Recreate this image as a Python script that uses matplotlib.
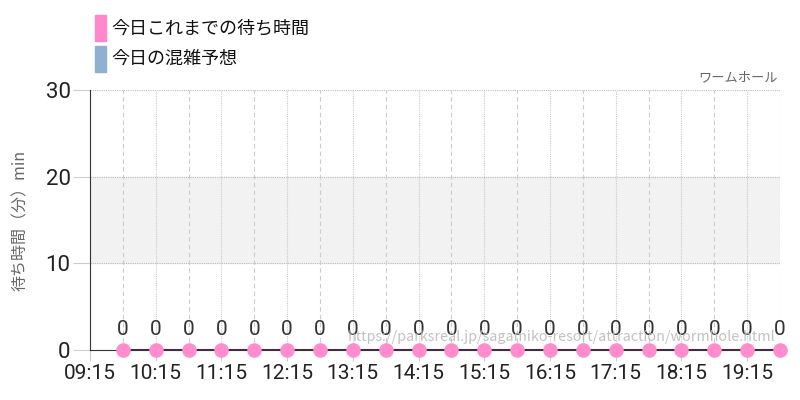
import matplotlib
matplotlib.use("Agg")
import matplotlib.pyplot as plt
import matplotlib.patches as mpatches

plt.rcParams['font.family'] = ['Noto Sans CJK JP', 'DejaVu Sans']

# datos
horas = ["09:45", "10:15", "10:45", "11:15", "11:45", "12:15", "12:45", "13:15",
         "13:45", "14:15", "14:45", "15:15", "15:45", "16:15", "16:45", "17:15",
         "17:45", "18:15", "18:45", "19:15", "19:45"]
espera = [0, 0, 0, 0, 0, 0, 0, 0, 0, 0, 0, 0, 0, 0, 0, 0, 0, 0, 0, 0, 0]
etiquetas_x = ["09:15", "10:15", "11:15", "12:15", "13:15", "14:15",
               "15:15", "16:15", "17:15", "18:15", "19:15"]
titulo = "ワームホール"
leyenda = ["今日これまでの待ち時間", "今日の混雑予想"]
url = "https://parksreal.jp/sagamiko-resort/attraction/wormhole.html"


def a_min(h):
    hh, mm = h.split(":")
    return int(hh) * 60 + int(mm)


x = [a_min(h) for h in horas]
x_ticks = [a_min(h) for h in etiquetas_x]

num_font = ['Roboto', 'DejaVu Sans']

fig = plt.figure(figsize=(8, 4), dpi=100)
ax = fig.add_axes([90 / 800, 50 / 400, 690 / 800, 260 / 400])
ax.set_xlim(a_min("09:15"), a_min("19:45"))
ax.set_ylim(0, 30)

# banda gris 10-20
ax.axhspan(10, 20, color="#f2f2f2", zorder=0)
for yv in [10, 20, 30]:
    ax.axhline(yv, color="#bbbbbb", lw=0.8, ls=(0, (1, 1)), zorder=1)
for xv in range(a_min("09:45"), a_min("19:45") + 1, 30):
    estilo = (0, (1, 1)) if (xv - a_min("09:15")) % 60 == 0 else (0, (4, 3))
    ax.axvline(xv, color="#cccccc", lw=0.8, ls=estilo, zorder=1)

ax.plot(x, espera, color="#5a2050", lw=1.5, zorder=3)
ax.scatter(x, espera, s=110, color="#ff8ccc", zorder=4, clip_on=False, linewidths=0)
for xi, yi in zip(x, espera):
    ax.text(xi, yi + 1.3, str(yi), ha="center", va="bottom", fontsize=15,
            color="#333333", family=num_font, zorder=5)

ax.set_xticks(x_ticks)
ax.set_xticklabels(etiquetas_x, family=num_font, fontsize=15, color="#222222")
ax.set_yticks([0, 10, 20, 30])
ax.set_yticklabels(["0", "10", "20", "30"], family=num_font, fontsize=16, color="#222222")
ax.tick_params(axis="x", length=8, color="#cccccc", pad=2)
ax.tick_params(axis="y", length=12, color="#cccccc", pad=2)

for lado in ["top", "right"]:
    ax.spines[lado].set_visible(False)
ax.spines["left"].set_color("#333333")
ax.spines["bottom"].set_color("#333333")

ax.set_ylabel("待ち時間（分）min", fontsize=11.5, color="#666666", labelpad=12)

fig.text(778 / 800, 1 - 78 / 400, titulo, ha="right", va="center", fontsize=9.5, color="#666666")
fig.text(775 / 800, 1 - 337 / 400, url, ha="right", va="center", fontsize=10.3,
         color="#bbbbbb", alpha=0.9, zorder=10)

# leyenda
colores = ["#ff88cc", "#8fb0d0"]
for i, (txt, c) in enumerate(zip(leyenda, colores)):
    y0 = 1 - (41 + i * 31) / 400
    fig.patches.append(mpatches.Rectangle((95 / 800, y0), 11 / 800, 26 / 400,
                                          transform=fig.transFigure, color=c))
    fig.text(111 / 800, y0 + 13 / 400, txt, ha="left", va="center", fontsize=13, color="#111111")

fig.savefig("out.png", dpi=100)
